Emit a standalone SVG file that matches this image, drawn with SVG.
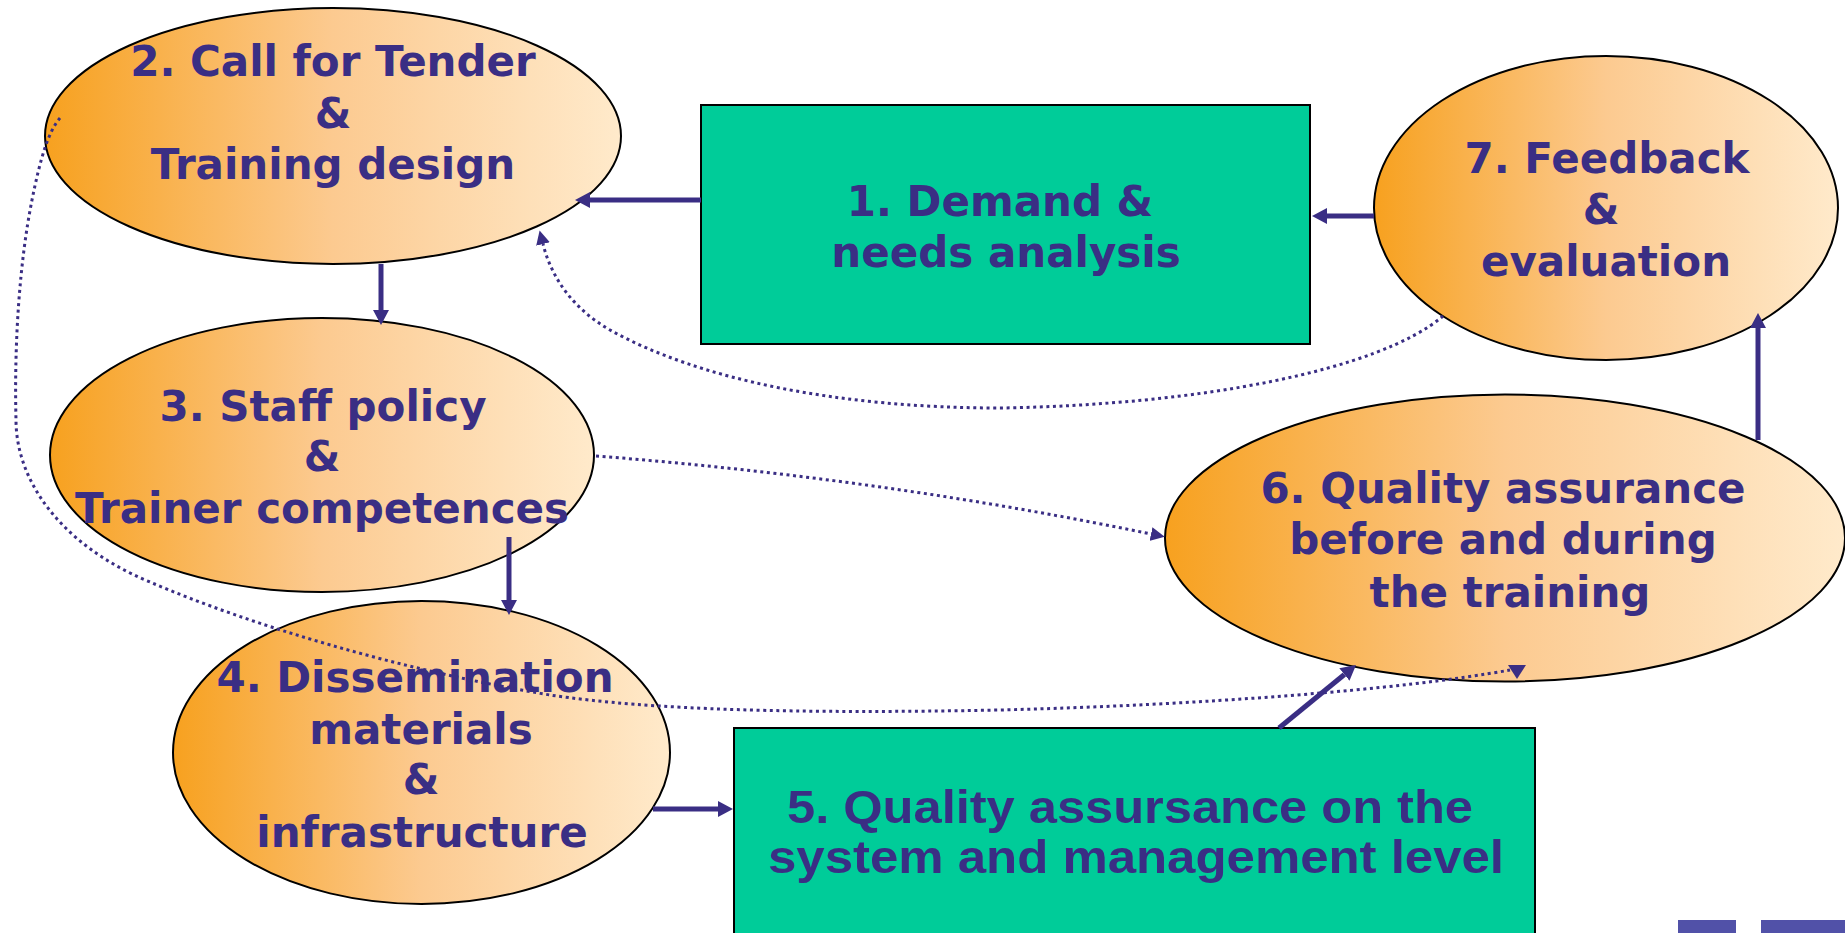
<svg xmlns="http://www.w3.org/2000/svg" width="1845" height="933" viewBox="0 0 1845 933">
<defs>
<linearGradient id="og" x1="0" y1="0" x2="1" y2="0">
<stop offset="0" stop-color="#F7A11F"/>
<stop offset="0.5" stop-color="#FCCA90"/>
<stop offset="1" stop-color="#FFEACB"/>
</linearGradient>
<marker id="ah" markerUnits="userSpaceOnUse" viewBox="0 0 15 16" markerWidth="15" markerHeight="16" refX="0" refY="8" orient="auto"><path d="M0,0 L15,8 L0,16 Z" fill="#3A2E84"/></marker>
<marker id="ahd" markerUnits="userSpaceOnUse" viewBox="0 0 14 14" markerWidth="14" markerHeight="14" refX="0" refY="7" orient="auto"><path d="M0,0 L14,7 L0,14 Z" fill="#3A2E84"/></marker>
</defs>
<style>
.ell{fill:url(#og);stroke:#000;stroke-width:2}
.box{fill:#00CC99;stroke:#000;stroke-width:2}
.t{font-family:"DejaVu Sans",Verdana,sans-serif;font-weight:bold;font-size:42px;fill:#3A2E84;text-anchor:middle}
.t5{font-family:"Liberation Sans",Arial,sans-serif;font-weight:bold;font-size:46px;fill:#3A2E84;text-anchor:middle}
.solid{fill:none;stroke:#3A2E84;stroke-width:5;marker-end:url(#ah)}
.dot{fill:none;stroke:#3A2E84;stroke-width:3;stroke-dasharray:3 3.6;marker-end:url(#ahd)}
.dotn{fill:none;stroke:#3A2E84;stroke-width:3;stroke-dasharray:3 3.6}
.head{fill:#3A2E84}
.logo{fill:#5151A8}
</style>
<rect x="0" y="0" width="1845" height="933" fill="#FFFFFF"/>

<g id="node1">
<rect class="box" x="701" y="105" width="609" height="239"/>
<text class="t" x="1000" y="216">1. Demand &amp;</text>
<text class="t" x="1006" y="267">needs analysis</text>
</g>

<g id="node2">
<ellipse class="ell" cx="333" cy="136" rx="288" ry="128"/>
<text class="t" x="333" y="76">2. Call for Tender</text>
<text class="t" x="333" y="128">&amp;</text>
<text class="t" x="333" y="179">Training design</text>
</g>

<g id="node3">
<ellipse class="ell" cx="322" cy="455" rx="272" ry="137"/>
<text class="t" x="323" y="421">3. Staff policy</text>
<text class="t" x="322" y="471">&amp;</text>
<text class="t" x="322" y="523">Trainer competences</text>
</g>

<g id="node4">
<ellipse class="ell" cx="421.5" cy="752.5" rx="248.5" ry="151.5"/>
<text class="t" x="415" y="692">4. Dissemination</text>
<text class="t" x="421" y="744">materials</text>
<text class="t" x="421" y="794">&amp;</text>
<text class="t" x="422" y="847">infrastructure</text>
</g>

<g id="node5">
<rect class="box" x="734" y="728" width="801" height="230"/>
<text class="t5" x="1130" y="823" textLength="686" lengthAdjust="spacingAndGlyphs">5. Quality assursance on the</text>
<text class="t5" x="1136" y="873" textLength="736" lengthAdjust="spacingAndGlyphs">system and management level</text>
</g>

<g id="node6">
<ellipse class="ell" cx="1505" cy="538" rx="340" ry="143.5"/>
<text class="t" x="1503" y="503">6. Quality assurance</text>
<text class="t" x="1503" y="554">before and during</text>
<text class="t" x="1510" y="607">the training</text>
</g>

<g id="node7">
<ellipse class="ell" cx="1606" cy="208" rx="232" ry="152"/>
<text class="t" x="1607" y="173">7. Feedback</text>
<text class="t" x="1601" y="224">&amp;</text>
<text class="t" x="1606" y="276">evaluation</text>
</g>

<g id="connectors">
<path class="solid" d="M701,200 L590,200"/>
<path class="solid" d="M1374,216 L1327,216"/>
<path class="solid" d="M381,264 L381,310"/>
<path class="solid" d="M509,537 L509,600"/>
<path class="solid" d="M653,809 L718,809"/>
<path class="solid" d="M1279,728 L1344.4,674.5"/>
<path class="solid" d="M1758,440 L1758,328"/>
<path class="dot" d="M1443,316 C1380,370 1200,405 1000,408 C840,408 700,380 610,330 C575,310 552,280 543,244"/>
<path class="dot" d="M596,456 Q880,478 1151,534"/>
<path class="dotn" d="M60,118 C48,132 40,160 32,200 C20,260 14,340 16,420 C16,480 60,545 150,582 C250,625 400,670 550,695 C650,710 800,714 1000,710 C1200,705 1400,690 1510,670"/>
<polygon class="head" points="1508,665 1526,665 1517,679"/>
</g>

<rect class="logo" x="1678" y="920" width="58" height="13"/>
<rect class="logo" x="1761" y="920" width="84" height="13"/>
</svg>
